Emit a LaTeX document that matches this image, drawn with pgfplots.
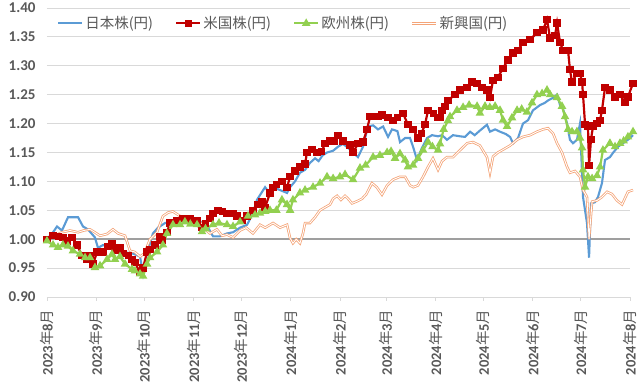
\documentclass[border=0pt]{standalone}
\usepackage{pgfplots}
\pgfplotsset{compat=1.18}
\usepackage{fontspec}
\setmainfont{Carlito}
\newfontfamily\cjk{Noto Sans CJK JP}
\definecolor{cblue}{RGB}{91,155,213}
\definecolor{cred}{RGB}{192,0,0}
\definecolor{cgreen}{RGB}{146,208,80}
\definecolor{corange}{RGB}{244,164,120}
\definecolor{cgrid}{RGB}{217,217,217}
\definecolor{ctext}{RGB}{89,89,89}
\newcommand\ym[2]{{\bfseries #1}{\cjk 年}{\bfseries #2}{\cjk 月}}
\begin{document}
\begin{tikzpicture}
\begin{axis}[
  scale only axis, width=583pt, height=289pt,
  xmin=0, xmax=366, ymin=0.9, ymax=1.4,
  axis x line*=bottom, axis y line*=left,
  x axis line style={draw=cgrid, line width=0.8pt, -},
  y axis line style={draw=none},
  ytick={0.9,0.95,...,1.41},
  ytick style={draw=none},
  ymajorgrids, grid style={draw=cgrid, line width=0.8pt},
  yticklabel style={xshift=-4pt, /pgf/number format/fixed, /pgf/number format/fixed zerofill, /pgf/number format/precision=2, /pgf/number format/assume math mode=true},
  yticklabel={\pgfmathprintnumber{\tick}},
  tick label style={font=\fontsize{15}{15}\selectfont\bfseries, text=ctext},
  xtick={0,31,61,92,122,153,184,213,244,274,305,335,366},
  xticklabels={\ym{2023}{8},\ym{2023}{9},\ym{2023}{10},\ym{2023}{11},\ym{2023}{12},\ym{2024}{1},\ym{2024}{2},\ym{2024}{3},\ym{2024}{4},\ym{2024}{5},\ym{2024}{6},\ym{2024}{7},\ym{2024}{8}},
  xticklabel style={rotate=90, anchor=east, font=\fontsize{14.5}{15}\selectfont, text=ctext, xshift=-5pt},
  major tick length=4pt,
  xtick style={draw=cgrid, line width=0.8pt},
  tick align=outside,
  clip=false,
  legend columns=4,
  legend style={at={(0.012,0.985)}, anchor=north west, draw=none, fill=none,
    font=\cjk\fontsize{14.5}{15}\selectfont, text=ctext,
    /tikz/every even column/.append style={column sep=20pt}},
  legend image code/.code={\draw[mark repeat=2,mark phase=2,#1] plot coordinates {(0pt,0pt) (12pt,0pt) (24pt,0pt)};},
]
\addplot[draw=gray!75, line width=1.8pt, forget plot] coordinates {(0,1) (366,1)};

% Japan
\addplot[draw=cblue, line width=2.1pt] coordinates {
(0,1.00)(3.8,1.012)(6.3,1.022)(9.4,1.015)(13.2,1.038)(19.5,1.038)(22.6,1.022)(25.7,1.017)
(30.1,1.003)(32,0.985)(35.2,0.99)(41.4,0.982)(47.7,0.978)(54,0.975)(58.4,0.97)(60.3,0.94)
(62.8,0.975)(66.5,1.01)(69.7,1.02)(74.1,1.028)(79.1,1.03)(85.4,1.035)(89.8,1.038)(94.2,1.03)
(99.2,1.03)(104.2,1.005)(108.6,1.005)(113,1.01)(116.8,1.012)(121.2,1.02)(125.6,1.025)
(129.3,1.045)(131.8,1.068)(136.9,1.09)(139,1.082)(141.9,1.09)(146.3,1.085)(150.7,1.08)
(152.6,1.09)(155.7,1.1)(158.8,1.115)(162,1.12)(165.1,1.132)(168.3,1.14)(170.5,1.135)
(173,1.145)(175.8,1.15)(179.6,1.153)(182.7,1.16)(185.8,1.165)(189,1.158)(192.1,1.15)
(195.2,1.142)(198.4,1.16)(201.5,1.195)(204.7,1.197)(207.8,1.19)(211,1.195)(214.1,1.177)
(216.6,1.19)(220,1.187)(221.6,1.168)(224.8,1.175)(227.9,1.175)(229.8,1.16)(232.3,1.137)
(235.4,1.158)(238.6,1.175)(241.7,1.18)(245.5,1.178)(248,1.18)(251.1,1.172)(254.9,1.18)
(259.3,1.178)(262.4,1.177)(265.6,1.186)(268.5,1.18)(271.8,1.188)(276.2,1.198)(278.1,1.186)
(281.3,1.19)(284.4,1.186)(288,1.182)(290.7,1.177)(292.6,1.166)(295.7,1.175)(298.8,1.2)
(302,1.206)(305.1,1.223)(309.5,1.232)(312.6,1.236)(314.5,1.24)(318,1.245)(320.2,1.25)
(322.1,1.232)(324,1.225)(326.5,1.2)(328.3,1.172)(330.2,1.166)(332.7,1.172)(334.6,1.2)
(336.5,1.073)(339,1.028)(340.3,0.968)(341.5,1.062)(344,1.064)(345.9,1.073)(348.4,1.097)
(350.3,1.137)(353.4,1.142)(355.5,1.15)(358.5,1.16)(361,1.165)(364.7,1.172)(367.9,1.18)
};
\addlegendentry{日本株(円)}

% US
\addplot[cred, line width=2.2pt, mark=square*, mark size=2.5pt, mark options={solid}] coordinates {
(0,1.00)(3.8,1.007)(7,1.005)(10,1.003)(12.6,0.997)(15.7,1.003)(18.8,0.99)(22,0.972)
(25.1,0.965)(27,0.972)(28.9,0.957)(31.4,0.978)(35.2,0.978)(38.3,0.987)(40.8,0.992)
(42.7,0.98)(45.8,0.985)(47.7,0.975)(51,0.972)(53.4,0.965)(55.2,0.96)(58.4,0.942)(60.3,0.95)
(62.8,0.978)(64.7,0.982)(67.8,0.99)(70.9,1.005)(72.2,0.998)(75.3,1.012)(77.2,1.028)
(81.6,1.033)(85.4,1.036)(89.8,1.035)(94.2,1.033)(97.3,1.02)(99.5,1.027)(102.3,1.036)
(104.2,1.045)(107.4,1.05)(110,1.048)(113,1.045)(116.8,1.044)(119.3,1.04)(122.4,1.033)
(125.6,1.04)(129.3,1.05)(132.5,1.06)(135,1.065)(136.9,1.055)(140,1.08)(141.9,1.09)
(144,1.095)(147.5,1.10)(150.7,1.09)(152.6,1.108)(155.7,1.118)(158.8,1.125)(162,1.13)
(163.2,1.15)(166.4,1.155)(169.5,1.15)(172.5,1.152)(174.5,1.165)(177.7,1.17)(180.5,1.17)
(182.7,1.18)(185.8,1.17)(190.2,1.163)(192.1,1.15)(195.2,1.165)(198.4,1.168)(200.9,1.19)
(202.8,1.212)(207.8,1.212)(210.3,1.215)(214.1,1.21)(217.2,1.205)(220,1.21)(223.5,1.218)
(226.6,1.198)(229.8,1.19)(232.9,1.175)(235,1.183)(237.3,1.198)(239.2,1.223)(242.5,1.218)
(245.5,1.21)(246.7,1.21)(248,1.223)(249.9,1.23)(251.7,1.24)(256.1,1.25)(259.3,1.258)
(263.7,1.263)(266.8,1.272)(270,1.27)(273.1,1.263)(276.2,1.258)(278.1,1.245)(280,1.275)
(283.1,1.28)(286.3,1.296)(289.4,1.31)(292.6,1.322)(295.7,1.327)(298.8,1.34)(303.2,1.345)
(307.6,1.357)(311.4,1.362)(313.9,1.38)(315.8,1.348)(318.9,1.352)(320.2,1.374)(322.1,1.34)
(323.9,1.327)(327.1,1.327)(328.3,1.293)(329.6,1.272)(332.7,1.287)(334.6,1.287)(335.9,1.272)
(336.5,1.25)(337.8,1.198)(339.6,1.196)(340.3,1.128)(341.5,1.172)(342.8,1.196)(345.3,1.2)
(347.2,1.206)(348.4,1.223)(350.3,1.262)(353.4,1.258)(356.6,1.246)(359.7,1.25)(362.9,1.236)
(364.7,1.246)(367.9,1.27)
};
\addlegendentry{米国株(円)}

% Europe
\addplot[cgreen, line width=2.2pt, mark=triangle*, mark size=2.8pt, mark options={solid}] coordinates {
(0,0.997)(3.8,0.99)(6.9,0.986)(10,0.99)(13.2,0.988)(16.3,0.98)(20.7,0.974)(23.9,0.968)
(27,0.968)(30.1,0.951)(33.3,0.954)(37.7,0.965)(40.8,0.974)(42.7,0.965)(45.8,0.97)(49,0.957)
(53.4,0.948)(55.2,0.945)(58.4,0.94)(60.3,0.936)(62.8,0.957)(64.7,0.968)(69.1,0.978)
(72.8,0.99)(75.3,1.01)(79.1,1.025)(83.5,1.025)(86.6,1.03)(90,1.026)(94.2,1.025)(97.3,1.013)
(99.5,1.018)(104.2,1.025)(108,1.028)(113,1.025)(116.8,1.022)(121.2,1.03)(126.2,1.04)
(130.6,1.042)(133.7,1.045)(137,1.048)(140,1.05)(144,1.05)(147.5,1.068)(150.7,1.06)
(152.6,1.05)(154.4,1.068)(158.8,1.08)(162,1.085)(167,1.09)(171.4,1.097)(175.8,1.108)
(179.6,1.105)(183.9,1.108)(187.1,1.112)(192.1,1.103)(196.5,1.123)(200,1.128)(204.7,1.142)
(209,1.145)(213.5,1.15)(216,1.152)(218.5,1.14)(221.6,1.148)(224.8,1.137)(226.6,1.125)
(229.8,1.128)(232.9,1.14)(236.1,1.154)(239.2,1.168)(242,1.16)(245.5,1.154)(246.7,1.165)
(249,1.19)(251.7,1.205)(253,1.212)(257.4,1.223)(261.2,1.228)(265,1.232)(270,1.23)
(271.8,1.218)(275,1.23)(278,1.228)(281.3,1.23)(284.4,1.223)(286.3,1.206)(288.8,1.195)
(291.9,1.21)(295.1,1.223)(298,1.225)(301.3,1.22)(304.5,1.236)(307.6,1.25)(310.8,1.252)
(313.9,1.258)(315.8,1.25)(320.2,1.245)(323.3,1.23)(325.2,1.212)(327.1,1.19)(329.6,1.186)
(332.7,1.186)(334.6,1.175)(335.9,1.158)(336.5,1.12)(337.8,1.09)(339.6,1.108)(342.2,1.105)
(345.3,1.11)(347.2,1.125)(349,1.154)(353.4,1.166)(356.6,1.16)(359.7,1.166)(362,1.17)
(364.7,1.177)(367.9,1.186)
};
\addlegendentry{欧州株(円)}

% Emerging
\addplot[corange, line width=0.8pt, double=white, double distance=0.9pt] coordinates {
(0,1.00)(3.8,1.005)(9.4,1.012)(14.4,1.015)(19.5,1.012)(23,1.015)(27,1.017)(30,1.012)
(33.3,1.006)(37.7,1.009)(41.4,1.017)(44.6,1.01)(49,1.006)(52.1,0.98)(55,0.978)(58.4,0.97)
(61,0.975)(64.7,1.0)(69.1,1.012)(72.8,1.04)(76,1.046)(79,1.048)(83.5,1.04)(87.9,1.038)
(92,1.035)(96,1.03)(99.2,1.017)(102.3,1.01)(106.7,1.017)(109.9,1.006)(113,1.008)
(116.8,1.003)(121.2,1.015)(125,1.02)(129.3,1.01)(133.7,1.025)(137,1.02)(141.9,1.028)
(146.3,1.02)(150.7,1.025)(152.6,1.002)(154.4,0.993)(156.5,1.0)(158.8,0.993)(160.7,1.01)
(162,1.028)(165.1,1.028)(168.3,1.038)(171.4,1.05)(174.5,1.055)(177.7,1.06)(179.6,1.07)
(182.1,1.075)(184.5,1.068)(187.1,1.075)(189,1.07)(191.5,1.062)(195,1.066)(197.8,1.07)
(200.5,1.078)(204,1.097)(207,1.09)(210.3,1.077)(213.5,1.093)(217.2,1.103)(221.6,1.108)
(224.8,1.108)(227.9,1.093)(230,1.09)(232.9,1.093)(236.1,1.108)(239.2,1.125)(242.3,1.14)
(245.5,1.12)(248,1.135)(251.1,1.142)(254.9,1.142)(259.3,1.154)(263.7,1.166)(267.4,1.168)
(271.8,1.162)(276.2,1.142)(278.1,1.115)(280,1.143)(283.1,1.15)(286.3,1.155)(290.7,1.162)
(295.1,1.172)(298.8,1.177)(303.2,1.18)(307.6,1.186)(311.4,1.19)(314.5,1.192)(317.7,1.183)
(320.2,1.166)(323.3,1.15)(326.5,1.125)(328.3,1.115)(331.5,1.118)(334.6,1.108)(336.5,1.085)
(339,1.073)(340.3,1.0)(342.2,1.065)(345.3,1.067)(348.4,1.073)(351.6,1.082)(354.7,1.078)
(357.8,1.067)(361,1.06)(364.7,1.082)(367.9,1.085)
};
\addlegendentry{新興国(円)}
\end{axis}
\pgfresetboundingbox
\path (-47pt,-90pt) rectangle (593pt,297pt);
\end{tikzpicture}
\end{document}
